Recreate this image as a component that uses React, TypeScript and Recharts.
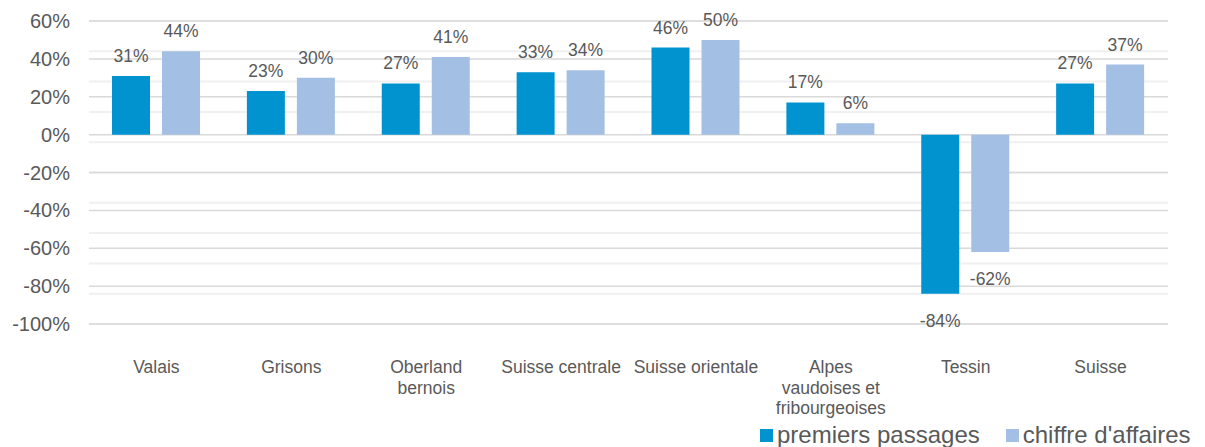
import React from "react";
import {Bar, BarChart, CartesianGrid, LabelList, Legend, XAxis, YAxis} from "recharts";

const regions = ["Valais", "Grisons", "Oberland bernois", "Suisse centrale", "Suisse orientale", "Alpes vaudoises et fribourgeoises", "Tessin", "Suisse"];
const regionLines = [["Valais"], ["Grisons"], ["Oberland", "bernois"], ["Suisse centrale"], ["Suisse orientale"], ["Alpes", "vaudoises et", "fribourgeoises"], ["Tessin"], ["Suisse"]];
const premiersPassages = [31, 23, 27, 33, 46, 17, -84, 27];
const chiffreAffaires = [44, 30, 41, 34, 50, 6, -62, 37];
const seriesNames = ["premiers passages", "chiffre d'affaires"];
const yTicks = [-100, -80, -60, -40, -20, 0, 20, 40, 60];

const minorTicks: number[] = [];
for (let v = -100; v <= 60; v += 4) minorTicks.push(v);

const data = regions.map((region, i) => ({
    region,
    premiers: premiersPassages[i],
    chiffre: chiffreAffaires[i],
}));

const FONT = "'Liberation Sans', Arial, sans-serif";
const TEXT = "#595959";
const DARK = "#0093D0";
const LIGHT = "#A3BFE3";

const XTick = (props: any) => {
    const {x, y, payload} = props;
    const lines = regionLines[payload.index] || [payload.value];
    return (
        <text x={x} y={y} textAnchor="middle" fill={TEXT} fontSize={17.5} fontFamily={FONT}>
            {lines.map((l, i) => (
                <tspan key={i} x={x} dy={i === 0 ? 49 : 20.5}>{l}</tspan>
            ))}
        </text>
    );
};

const YTick = (props: any) => {
    const {x, y, payload} = props;
    return (
        <text x={x} y={y} dy="0.355em" textAnchor="end" fill={TEXT} fontSize={20} fontFamily={FONT}>
            {payload.value}%
        </text>
    );
};

const ValueLabel = (props: any) => {
    const {x, y, width, height, value} = props;
    const top = Math.min(y, y + height);
    const bottom = Math.max(y, y + height);
    const cx = x + width / 2;
    return (
        <text x={cx} y={value >= 0 ? top - 14 : bottom + 33} textAnchor="middle" fill={TEXT} fontSize={17.5} fontFamily={FONT}>
            {value}%
        </text>
    );
};

const LegendContent = (props: any) => {
    const items = [...(props.payload || [])].sort(
        (a: any, b: any) => seriesNames.indexOf(a.value) - seriesNames.indexOf(b.value)
    );
    return (
        <div style={{display: "flex", fontFamily: FONT, fontSize: 24, color: TEXT, whiteSpace: "nowrap", lineHeight: "24px"}}>
            {items.map((p: any, i: number) => (
                <div key={i} style={{display: "flex", alignItems: "center", marginRight: i === 0 ? 26 : 0}}>
                    <span style={{display: "inline-block", width: 13, height: 13, background: p.color, marginRight: 4}}/>
                    <span>{p.value}</span>
                </div>
            ))}
        </div>
    );
};

export default function App() {
    return (
        <div style={{position: "absolute", left: 0, top: 0}}>
            <BarChart width={1205}
                      height={447}
                      data={data}
                      margin={{top: 21, right: 37, bottom: 23, left: 0}}
                      barSize={38}
                      barGap={12}
            >
                <CartesianGrid vertical={false} horizontalValues={minorTicks} stroke="#F0F0F0" strokeWidth={2}/>
                <CartesianGrid vertical={false} horizontalValues={yTicks} stroke="#D9D9D9" strokeWidth={1.5}/>
                <XAxis dataKey="region"
                       axisLine={false}
                       tickLine={false}
                       tickSize={0}
                       tickMargin={0}
                       height={100}
                       interval={0}
                       tick={<XTick/>}
                />
                <YAxis domain={[-100, 60]}
                       ticks={yTicks}
                       axisLine={false}
                       tickLine={false}
                       tickSize={0}
                       tickMargin={19}
                       width={89}
                       tick={<YTick/>}
                />
                <Legend verticalAlign="middle"
                        align="center"
                        layout="horizontal"
                        wrapperStyle={{top: 423, left: 760, width: "auto"}}
                        content={<LegendContent/>}
                />
                <Bar dataKey="premiers" name={seriesNames[0]} fill={DARK} isAnimationActive={false}>
                    <LabelList dataKey="premiers" content={<ValueLabel/>}/>
                </Bar>
                <Bar dataKey="chiffre" name={seriesNames[1]} fill={LIGHT} isAnimationActive={false}>
                    <LabelList dataKey="chiffre" content={<ValueLabel/>}/>
                </Bar>
            </BarChart>
        </div>
    );
}
